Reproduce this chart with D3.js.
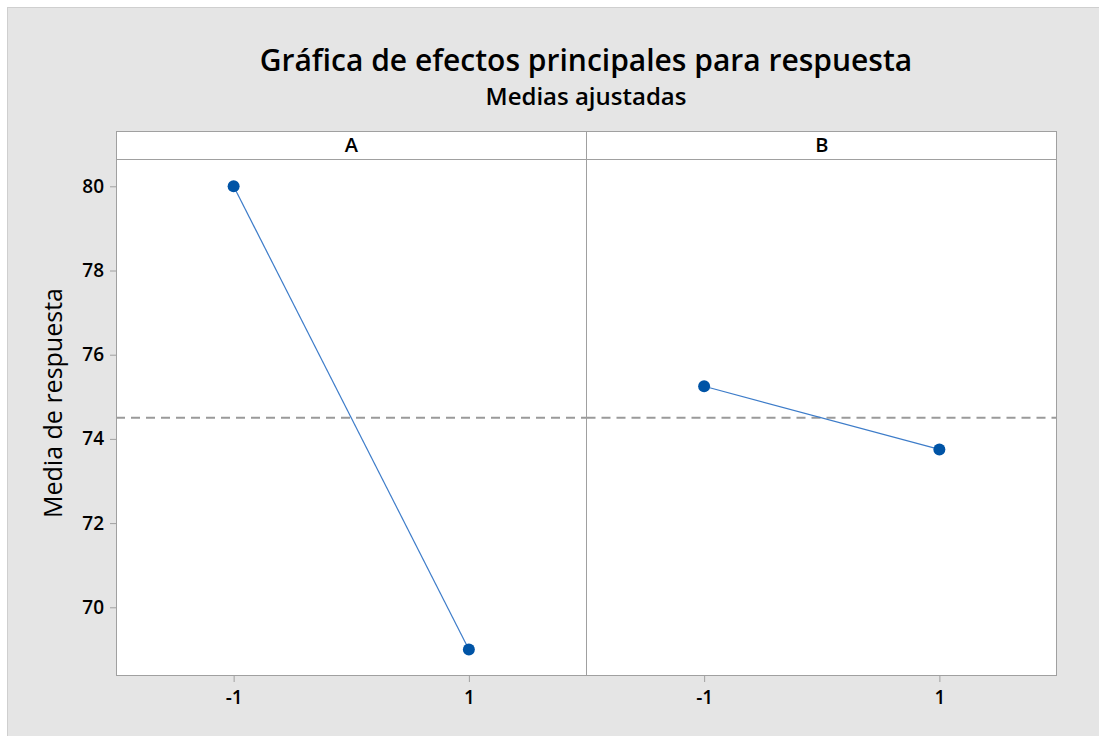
<!DOCTYPE html>
<html>
<head>
<meta charset="utf-8">
<script src="https://cdn.jsdelivr.net/npm/d3@7"></script>
<style>
  body { margin: 0; background: #fff; }
  text { font-family: "Open Sans", "Noto Sans", sans-serif; }
</style>
</head>
<body>
<script>
(function() {

    const width = 1099;
    const height = 736;

    // factors, their levels and the fitted means
    const factors = ["A", "B"];
    const levels = [-1, 1];
    const levelLabels = ["-1", "1"];
    const meansA = [80, 69];
    const meansB = [75.25, 73.75];
    const grandMean = 74.5;
    const yTicks = [70, 72, 74, 76, 78, 80];

    const titleText = "Gráfica de efectos principales para respuesta";
    const subtitleText = "Medias ajustadas";
    const yLabelText = "Media de respuesta";

    const frame = {left: 116, right: 1057, top: 131, strip: 159, bottom: 676};
    const panelW = (frame.right - frame.left) / factors.length;

    let svg = d3.select("body").append("svg")
        .attr("width", width)
        .attr("height", height);

    // gray outer background
    svg.append("rect")
        .attr("x", 7.5).attr("y", 7.5)
        .attr("width", width).attr("height", height)
        .style("fill", "#e5e5e5")
        .style("stroke", "#cfcfcf");

    // titles
    svg.append("text")
        .attr("x", 586).attr("y", 71)
        .attr("text-anchor", "middle")
        .style("font-size", "30px")
        .style("font-weight", "600")
        .text(titleText);

    svg.append("text")
        .attr("x", 586).attr("y", 105)
        .attr("text-anchor", "middle")
        .style("font-size", "24px")
        .style("font-weight", "600")
        .text(subtitleText);

    // y scale (shared by both panels)
    let y = d3.scaleLinear()
        .domain([70, 80])
        .range([607.3, 186.3]);

    // white plot area
    svg.append("rect")
        .attr("x", frame.left).attr("y", frame.top)
        .attr("width", frame.right - frame.left)
        .attr("height", frame.bottom - frame.top)
        .style("fill", "#fff");

    // y axis
    let yAxis = svg.append("g")
        .attr("transform", "translate(" + frame.left + ",0)")
        .call(d3.axisLeft(y).tickValues(yTicks).tickSize(6).tickPadding(6));
    yAxis.select(".domain").remove();
    yAxis.selectAll(".tick line").style("stroke", "#a0a0a0");
    yAxis.selectAll(".tick text")
        .style("font-size", "19px")
        .style("font-weight", "600")
        .style("fill", "#000");

    svg.append("text")
        .attr("transform", "translate(62,403) rotate(-90)")
        .attr("text-anchor", "middle")
        .style("font-size", "25px")
        .text(yLabelText);

    let seriesMeans = [meansA, meansB];

    factors.forEach(function(f, i) {
        let x0 = frame.left + i * panelW;
        let x = d3.scaleLinear()
            .domain([-2, 2])
            .range([x0, x0 + panelW]);

        // x axis
        let xAxis = svg.append("g")
            .attr("transform", "translate(0," + frame.bottom + ")")
            .call(d3.axisBottom(x).tickValues(levels)
                .tickFormat(function(d, j) { return levelLabels[j]; })
                .tickSize(6).tickPadding(9));
        xAxis.select(".domain").remove();
        xAxis.selectAll(".tick line").style("stroke", "#a0a0a0");
        xAxis.selectAll(".tick text")
            .style("font-size", "19px")
            .style("font-weight", "600")
            .style("fill", "#000");

        // panel label
        svg.append("text")
            .attr("x", x(0)).attr("y", 152)
            .attr("text-anchor", "middle")
            .style("font-size", "20px")
            .style("font-weight", "600")
            .text(f);

        // mean reference line
        svg.append("line")
            .attr("x1", x0).attr("x2", x0 + panelW)
            .attr("y1", y(grandMean)).attr("y2", y(grandMean))
            .style("stroke", "#9a9a9a")
            .style("stroke-width", 2)
            .style("stroke-dasharray", "9,6");

        let pts = levels.map(function(l, j) { return [l, seriesMeans[i][j]]; });

        svg.append("path")
            .datum(pts)
            .attr("d", d3.line()
                .x(function(d) { return x(d[0]); })
                .y(function(d) { return y(d[1]); }))
            .style("fill", "none")
            .style("stroke", "#3d7cc9")
            .style("stroke-width", 1.2);

        svg.selectAll(".pt" + i)
            .data(pts)
            .enter()
            .append("circle")
            .attr("cx", function(d) { return x(d[0]); })
            .attr("cy", function(d) { return y(d[1]); })
            .attr("r", 6)
            .style("fill", "#0054a6");
    });

    // frame, strip line and panel divider
    svg.append("rect")
        .attr("x", frame.left + 0.5).attr("y", frame.top + 0.5)
        .attr("width", frame.right - frame.left - 1)
        .attr("height", frame.bottom - frame.top - 1)
        .style("fill", "none")
        .style("stroke", "#a0a0a0");

    svg.append("line")
        .attr("x1", frame.left).attr("x2", frame.right)
        .attr("y1", frame.strip + 0.5).attr("y2", frame.strip + 0.5)
        .style("stroke", "#a0a0a0");

    svg.append("line")
        .attr("x1", frame.left + panelW).attr("x2", frame.left + panelW)
        .attr("y1", frame.top).attr("y2", frame.bottom)
        .style("stroke", "#a0a0a0");

})();
</script>
</body>
</html>
